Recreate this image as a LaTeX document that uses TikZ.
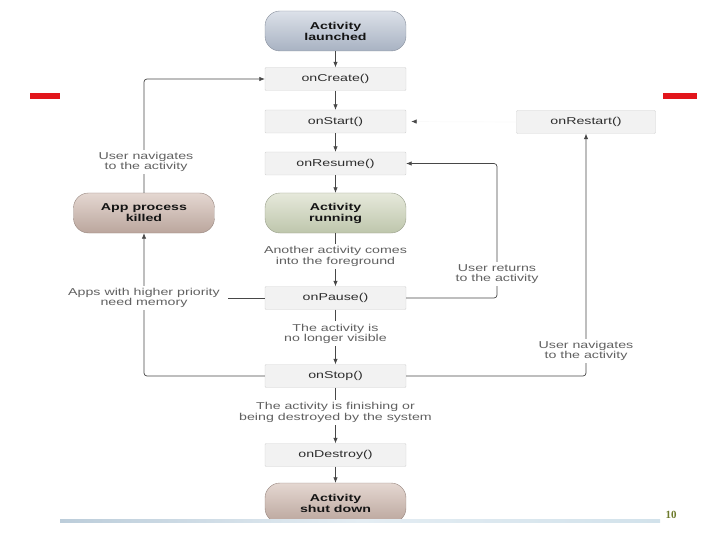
\documentclass[tikz,border=0pt]{standalone}
\usepackage{fontspec}
\setmainfont{Liberation Sans}[FakeStretch=1.42]
\newfontfamily\pagefont{Liberation Serif}
\usepackage{tikz}
\usetikzlibrary{arrows.meta}

\definecolor{boxfill}{HTML}{F2F2F2}
\definecolor{boxline}{HTML}{D2D2D2}
\definecolor{launchtop}{HTML}{DCE1E9}
\definecolor{launchbot}{HTML}{A8B2C2}
\definecolor{runtop}{HTML}{E6E9DB}
\definecolor{runbot}{HTML}{BEC6AC}
\definecolor{killtop}{HTML}{E4D7D1}
\definecolor{killbot}{HTML}{BBA69D}
\definecolor{slidered}{HTML}{E2161C}
\definecolor{pageolive}{HTML}{6E7B2C}
\definecolor{footleft}{HTML}{BCCDDA}
\definecolor{footmid}{HTML}{E4EDF3}
\definecolor{footright}{HTML}{D2E2EB}

\begin{document}
\begin{tikzpicture}[x=1pt,y=-1pt,
    every node/.style={font=\fontsize{10}{10.5}\selectfont},
    >={Latex[length=5.5pt,width=4.5pt]},
    flow/.style={draw=black!72, line width=0.7pt},
    box/.style={draw=boxline, fill=boxfill, minimum width=141pt, minimum height=23pt,
      rounded corners=1pt, text=black!82},
    pill/.style={minimum width=141pt, minimum height=40pt, rounded corners=15pt,
      align=center, text=black!92, font=\bfseries\fontsize{10}{11}\selectfont},
    launch/.style={pill, draw=launchbot!80!black, top color=launchtop, bottom color=launchbot},
    run/.style={pill, draw=runbot!80!black, top color=runtop, bottom color=runbot},
    kill/.style={pill, draw=killbot!80!black, top color=killtop, bottom color=killbot},
    lbl/.style={fill=white, align=center, text=black!62, inner sep=2.5pt}]
  \useasboundingbox (0,0) rectangle (720,540);

  % slide marks
  \fill[slidered] (30,93) rectangle (60,99);
  \fill[slidered] (663,93) rectangle (697,99);

  % states
  \node[launch] (launched) at (335.5,31) {Activity\\launched};
  \node[box] (create) at (335.5,79) {onCreate()};
  \node[box] (start) at (335.5,121.5) {onStart()};
  \node[box, minimum width=139pt] (restart) at (586,122) {onRestart()};
  \node[box] (resume) at (335.5,163.5) {onResume()};
  \node[run] (running) at (335.5,213) {Activity\\running};
  \node[kill] (killed) at (144,213) {App process\\killed};
  \node[box] (pause) at (335.5,298) {onPause()};
  \node[box] (stop) at (335.5,376) {onStop()};
  \node[box] (destroy) at (335.5,455) {onDestroy()};
  \node[kill] (shutdown) at (335.5,503) {Activity\\shut down};

  \coordinate (rightA) at (497,0);
  \coordinate (memoryend) at (228,298);

  % main chain
  \draw[flow,->] (launched) -- (create);
  \draw[flow,->] (create) -- (start);
  \draw[flow,->] (start) -- (resume);
  \draw[flow,->] (resume) -- (running);
  \draw[flow,->] (running) -- node[lbl, pos=0.44] (foreground) {Another activity comes\\into the foreground} (pause);
  \draw[flow,->] (pause) -- node[lbl, pos=0.44] (invisible) {The activity is\\no longer visible} (stop);
  \draw[flow,->] (stop) -- node[lbl, pos=0.44] (finishing) {The activity is finishing or\\being destroyed by the system} (destroy);
  \draw[flow,->] (destroy) -- (shutdown);

  % loops
  \draw[flow,->, rounded corners=3pt] (killed.north) |- (create.west);
  \draw[flow,->, rounded corners=3pt] (pause.east) -| (rightA |- resume.east) -- (resume.east);
  \draw[flow,->, rounded corners=3pt] (stop.east) -| (restart.south);
  \draw[flow,->, rounded corners=3pt] (stop.west) -| (killed.south);
  \draw[flow] (pause.west) -- (memoryend);
  \draw[draw=black!2, line width=0.7pt, shorten >=5pt,
    -{Latex[length=5.5pt,width=4.5pt,color=black!72]}] (restart.west) -- (start.east);

  \node[lbl] (navigate) at (146,162) {User navigates\\to the activity};
  \node[lbl] (returns) at (497,274) {User returns\\to the activity};
  \node[lbl] (navigateback) at (586,351) {User navigates\\to the activity};
  \node[lbl] (memory) at (144,298) {Apps with higher priority\\need memory};

  % slide footer
  \fill[white] (0,522) rectangle (720,540);
  \fill[left color=footleft, right color=footright, middle color=footmid]
    (60,519) rectangle (660,522);
  \node[font=\pagefont\bfseries\fontsize{11}{13}\selectfont, text=pageolive] (pageno) at (671,515) {10};
\end{tikzpicture}
\end{document}
